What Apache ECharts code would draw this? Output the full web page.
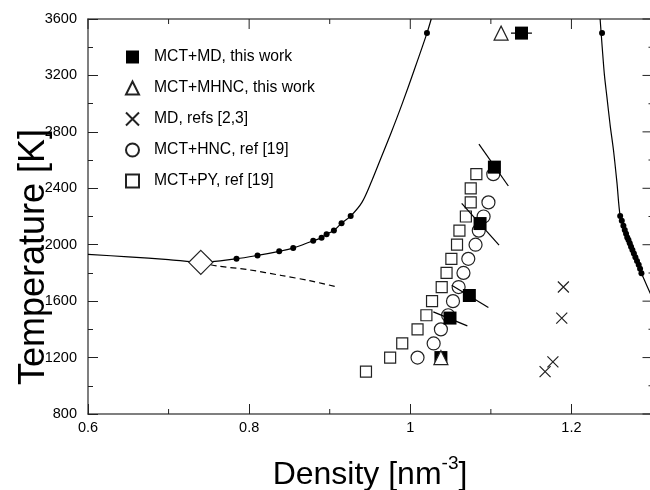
<!DOCTYPE html>
<html><head><meta charset="utf-8">
<script src="https://cdn.jsdelivr.net/npm/echarts@6/dist/echarts.min.js"></script>
<style>html,body{margin:0;padding:0;background:#fff}#c{width:650px;height:490px}</style>
</head><body><div id="c"></div>
<script>
// ---- data ----
const xTickLabels = [0.6, 0.8, 1.0, 1.2];
const xMinorTicks = [0.7, 0.9, 1.1];
const yTickLabels = [800, 1200, 1600, 2000, 2400, 2800, 3200, 3600];
const yMinorTicks = [1000, 1400, 1800, 2200, 2600, 3000, 3400];

const leftCurve = [[0.6,1932],[0.65,1914],[0.70,1895],[0.74,1875],[0.7843,1900],[0.8104,1924],[0.8373,1953],[0.8547,1976],[0.8795,2028],[0.8899,2049],[0.8961,2075],[0.9052,2101],[0.9147,2153],[0.926,2203],[0.94,2300],[0.952,2450],[0.964,2620],[0.976,2790],[0.99,3000],[1.005,3240],[1.0207,3500],[1.026,3600]];
const dashedCurve = [[0.74,1872],[0.76,1850],[0.80,1822],[0.84,1782],[0.875,1745],[0.91,1700]];
const rightCurve = [[1.2356,3600],[1.2382,3400],[1.241,3200],[1.244,3050],[1.248,2850],[1.2522,2670],[1.2565,2440],[1.2605,2203],[1.2655,2120],[1.2708,2033],[1.2787,1912],[1.2869,1797],[1.2977,1657],[1.302,1600]];
const leftDots = [[0.7843,1900],[0.8104,1924],[0.8373,1953],[0.8547,1976],[0.8795,2028],[0.8899,2049],[0.8961,2075],[0.9052,2101],[0.9147,2153],[0.926,2203],[1.0207,3500]];
const rightDots = [[1.238,3500],[1.2605,2203],[1.2625,2170],[1.2645,2135],[1.2662,2105],[1.2678,2078],[1.2693,2052],[1.2708,2033],[1.2724,2010],[1.274,1985],[1.2757,1962],[1.2775,1938],[1.2794,1912],[1.2814,1885],[1.2835,1858],[1.2852,1830],[1.2869,1797]];
const diamondPoint = [[0.74,1875]];
const mctMD = [[1.138,3500],[1.1044,2550],[1.0866,2150],[1.0733,1640],[1.0493,1480],[1.038,1200]];
const mctMDBars = [
  [[1.125,3500],[1.151,3500]],
  [[1.0852,2713],[1.1217,2416]],
  [[1.0638,2293],[1.1102,1997]],
  [[1.0514,1713],[1.0969,1555]],
  [[1.0286,1524],[1.0708,1425]]
];
const mctMHNC = [[1.1127,3500],[1.038,1200]];
const mdRefs = [[1.190,1700],[1.188,1480],[1.177,1170],[1.1673,1100]];
const mctHNC = [[1.009,1200],[1.029,1300],[1.038,1400],[1.047,1500],[1.053,1600],[1.060,1700],[1.066,1800],[1.072,1900],[1.081,2000],[1.085,2100],[1.091,2200],[1.097,2300],[1.103,2500]];
const mctPY = [[0.945,1100],[0.975,1200],[0.990,1300],[1.009,1400],[1.020,1500],[1.027,1600],[1.039,1700],[1.045,1800],[1.051,1900],[1.058,2000],[1.061,2100],[1.069,2200],[1.075,2300],[1.075,2400],[1.082,2500]];

const NAME_MD = 'MCT+MD, this work';
const NAME_MHNC = 'MCT+MHNC, this work';
const NAME_REF = 'MD, refs [2,3]';
const NAME_HNC = 'MCT+HNC, ref [19]';
const NAME_PY = 'MCT+PY, ref [19]';

// ---- chart ----
const X_MIN = 0.6, X_MAX = 1.3, Y_MIN = 800, Y_MAX = 3600;
const FONT = 'Liberation Sans, Arial, Helvetica, sans-serif';
const axisLineStyle = {color:'#555', width:1.5};
const tickStyle = {color:'#222', width:1};
const plain = v => String(v);

const xBottom = {
  type:'value', position:'bottom', min:X_MIN, max:X_MAX, interval:0.2,
  axisLine:{show:true, onZero:false, lineStyle:axisLineStyle},
  axisTick:{show:true, inside:true, length:10, customValues:xTickLabels, lineStyle:tickStyle},
  axisLabel:{show:true, customValues:xTickLabels, formatter:plain, color:'#000', fontSize:14.5, fontFamily:FONT, margin:6},
  splitLine:{show:false},
  name:'{a|Density [nm}{s|-3}{a|]}', nameLocation:'middle', nameGap:40,
  nameTextStyle:{rich:{
    a:{fontSize:32, fontFamily:FONT, color:'#000', lineHeight:42},
    s:{fontSize:19, fontFamily:FONT, color:'#000', verticalAlign:'top', lineHeight:22}
  }}
};
const xTop = {
  type:'value', position:'top', min:X_MIN, max:X_MAX, interval:0.2,
  axisLine:{show:true, onZero:false, lineStyle:axisLineStyle},
  axisTick:{show:false}, axisLabel:{show:false}, splitLine:{show:false}
};
const yLeft = {
  type:'value', position:'left', min:Y_MIN, max:Y_MAX, interval:400,
  axisLine:{show:true, onZero:false, lineStyle:axisLineStyle},
  axisTick:{show:true, inside:true, length:10, lineStyle:tickStyle},
  minorTick:{show:true, splitNumber:2, length:5, lineStyle:tickStyle},
  axisLabel:{show:true, customValues:yTickLabels, formatter:plain, color:'#000', fontSize:14.5, fontFamily:FONT, margin:11},
  splitLine:{show:false}, minorSplitLine:{show:false}
};

// mirrored / minor tick marks drawn as thin rect symbols placed by the axes' scales
function tickMarks(data, size, offset) {
  return {type:'scatter', data:data, symbol:'rect', symbolSize:size, symbolOffset:offset,
    itemStyle:{color:'#222', opacity:1}, silent:true, clip:false, z:1};
}
const tickSeries = [
  tickMarks(xTickLabels.map(v => [v, Y_MAX]), [1, 10], [0, '50%']),
  tickMarks(xMinorTicks.map(v => [v, Y_MAX]), [1, 5], [0, '50%']),
  tickMarks(xMinorTicks.map(v => [v, Y_MIN]), [1, 5], [0, '-50%']),
  tickMarks(yTickLabels.map(v => [X_MAX, v]), [9.5, 1], ['-50%', 0]),
  tickMarks(yMinorTicks.map(v => [X_MAX, v]), [3.5, 1], ['-50%', 0])
];

const blk = '#000';
const sc = (o) => Object.assign({type:'scatter'}, o, {itemStyle:Object.assign({opacity:1}, o.itemStyle)});
const series = tickSeries.concat([
  {type:'line', data:leftCurve, showSymbol:false, smooth:0.3, lineStyle:{color:blk, width:1.2}, silent:true, z:2},
  {type:'line', data:dashedCurve, showSymbol:false, smooth:0.3, lineStyle:{color:blk, width:1.2, type:[6,4]}, silent:true, z:2},
  {type:'line', data:rightCurve, showSymbol:false, smooth:0.3, lineStyle:{color:blk, width:1.2}, silent:true, z:2},
  sc({data:leftDots.concat(rightDots), symbol:'circle', symbolSize:6, itemStyle:{color:blk}, z:3}),
  sc({data:diamondPoint, symbol:'diamond', symbolSize:24, itemStyle:{color:'#fff', borderColor:'#222', borderWidth:1.2}, z:3}),
  sc({name:NAME_PY, data:mctPY, symbol:'rect', symbolSize:11, itemStyle:{color:'#fff', borderColor:'#222', borderWidth:1.2}, z:4}),
  sc({name:NAME_HNC, data:mctHNC, symbol:'circle', symbolSize:13, itemStyle:{color:'#fff', borderColor:'#222', borderWidth:1.2}, z:4}),
  sc({name:NAME_REF, data:mdRefs, symbol:'path://M0,0L10,10M0,10L10,0', symbolSize:11, itemStyle:{color:'rgba(0,0,0,0)', borderColor:'#222', borderWidth:1.2}, z:4})
]);
mctMDBars.forEach(seg => series.push({type:'line', data:seg, showSymbol:false, lineStyle:{color:blk, width:1.2}, silent:true, z:5}));
series.push(sc({name:NAME_MD, data:mctMD, symbol:'rect', symbolSize:13, itemStyle:{color:blk}, z:6}));
series.push(sc({name:NAME_MHNC, data:mctMHNC, symbol:'triangle', symbolSize:14, itemStyle:{color:'#fff', borderColor:'#222', borderWidth:1.2}, z:7}));

const chart = echarts.init(document.getElementById('c'), null, {renderer:'canvas'});
chart.setOption({
  animation:false,
  backgroundColor:'#fff',
  grid:{left:88, right:-2, top:19, bottom:76, containLabel:false, outerBoundsMode:'none'},
  xAxis:[xBottom, xTop],
  yAxis:[yLeft],
  legend:{
    orient:'vertical', left:120, top:44, itemWidth:13, itemHeight:13, itemGap:15,
    data:[NAME_MD, NAME_MHNC, NAME_REF, NAME_HNC, NAME_PY],
    textStyle:{fontSize:15.7, fontFamily:FONT, color:'#000', padding:[0,0,0,10]},
    selectedMode:false
  },
  graphic:[{type:'text', x:34, y:257, rotation:Math.PI/2, silent:true,
    style:{text:'Temperature [K]', fontSize:36, fontFamily:FONT, fill:'#000', align:'center', verticalAlign:'middle'}}],
  series: series.map(s => Object.assign({xAxisIndex:0, yAxisIndex:0}, s))
});
</script>
</body></html>
